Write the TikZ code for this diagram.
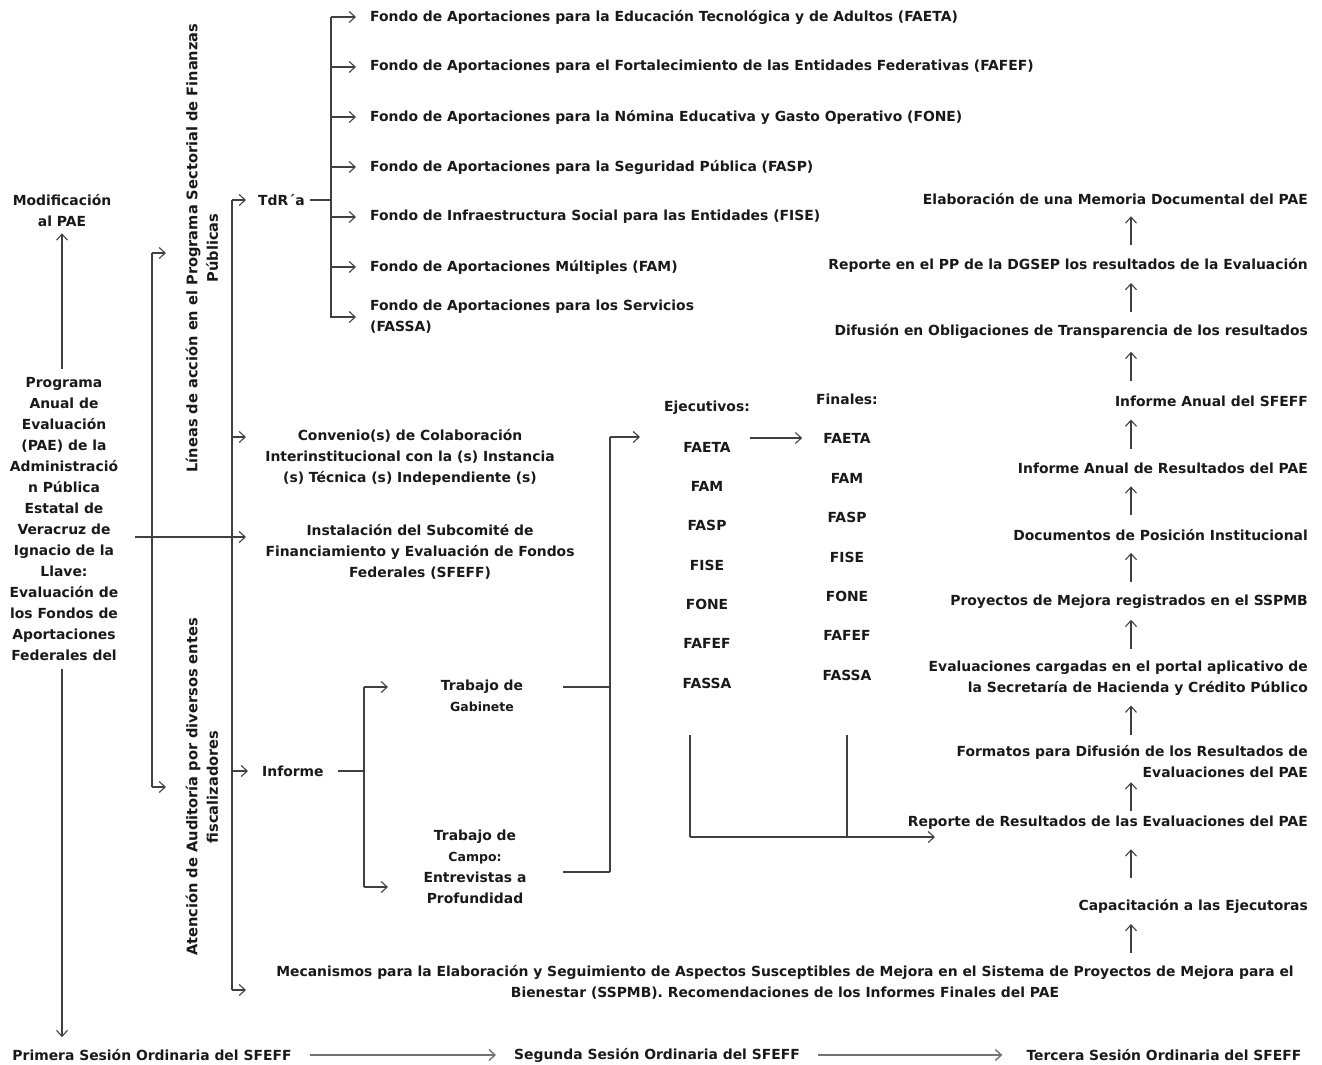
\documentclass[tikz,border=0pt]{standalone}
\usepackage{fontspec}
\setmainfont{DejaVu Sans}
\usetikzlibrary{arrows.meta,calc}
\begin{document}
\begin{tikzpicture}[x=1pt,y=-1pt,
  every node/.style={font=\fontsize{13.9}{21}\selectfont\bfseries, inner sep=0pt, text=black!90},
  ln/.style={draw=black!75, line width=1.1pt},
  arr/.style={ln, -{Straight Barb[length=6pt,width=11pt,line width=1.1pt]}},
  arrg/.style={draw=black!55, line width=1.8pt, -{Straight Barb[length=6pt,width=11pt,line width=1.4pt]}},
  rot/.style={rotate=90, align=center, font=\fontsize{14.6}{20.5}\selectfont\bfseries}
]
\useasboundingbox (0,0) rectangle (1322,1065);

% left column
\node[align=center] (mod) at (62,211) {Modificación\\al PAE};
\node[align=center] (prog) at (64,519) {Programa\\Anual de\\Evaluación\\(PAE) de la\\Administració\\n Pública\\Estatal de\\Veracruz de\\Ignacio de la\\Llave:\\Evaluación de\\los Fondos de\\Aportaciones\\Federales del};
\node (prim) at (152,1055) {Primera Sesión Ordinaria del SFEFF};
\node (seg) at (657,1055) {Segunda Sesión Ordinaria del SFEFF};
\node (ter) at (1164,1055) {Tercera Sesión Ordinaria del SFEFF};
\draw[arr, shorten <=8pt, shorten >=6pt] (prog.north -| mod) -- (mod.south);
\draw[arr, shorten <=8pt, shorten >=12pt] (prog.south -| mod) -- (mod |- prim.north);
\draw[arrg, shorten <=18pt, shorten >=18pt] (prim.east) -- (seg.west);
\draw[arrg, shorten <=18pt, shorten >=24pt] (seg.east) -- (ter.west);

% rotated labels
\node[rot] (lin) at (202,248) {Líneas de acción en el Programa Sectorial de Finanzas\\Públicas};
\node[rot] (aud) at (202,787) {Atención de Auditoría por diversos entes\\fiscalizadores};

% bracket 1
\coordinate (b1t) at (152,253);
\coordinate (b1b) at (152,787);
\draw[ln] (b1t) -- (b1b);
\draw[arr] (b1t) -- ++(14,0);
\draw[arr] (b1b) -- ++(14,0);

% bracket 2
\coordinate (b2t) at (232,200);
\coordinate (b2b) at (232,990);
\coordinate (b2c) at (232,437);
\coordinate (pj) at (135,537);
\draw[ln] (b2t) -- (b2b);

\node[anchor=west] (tdr) at (258,200) {TdR´a};
\node[align=center] (conv) at (410,457) {Convenio(s) de Colaboración\\Interinstitucional con la (s) Instancia\\(s) Técnica (s) Independiente (s)};
\node[align=center] (inst) at (420,552) {Instalación del Subcomité de\\Financiamiento y Evaluación de Fondos\\Federales (SFEFF)};
\node[anchor=west] (inf) at (262,771) {Informe};
\node[align=center] (mec) at (785,982) {Mecanismos para la Elaboración y Seguimiento de Aspectos Susceptibles de Mejora en el Sistema de Proyectos de Mejora para el\\Bienestar (SSPMB). Recomendaciones de los Informes Finales del PAE};

\draw[arr, shorten >=12pt] (b2t) -- (tdr.west);
\draw[arr] (b2c) -- ++(14,0);
\draw[arr] (pj) -- ++(111,0);
\draw[arr, shorten >=14pt] (b2t |- inf.west) -- (inf.west);
\draw[arr] (b2b) -- ++(14,0);

% TdR bracket
\coordinate (t0) at (331,17);
\coordinate (t1) at (331,318);
\node[anchor=west] (f1) at (370,17) {Fondo de Aportaciones para la Educación Tecnológica y de Adultos (FAETA)};
\node[anchor=west] (f2) at (370,67) {Fondo de Aportaciones para el Fortalecimiento de las Entidades Federativas (FAFEF)};
\node[anchor=west] (f3) at (370,117) {Fondo de Aportaciones para la Nómina Educativa y Gasto Operativo (FONE)};
\node[anchor=west] (f4) at (370,167) {Fondo de Aportaciones para la Seguridad Pública (FASP)};
\node[anchor=west] (f5) at (370,217) {Fondo de Infraestructura Social para las Entidades (FISE)};
\node[anchor=west] (f6) at (370,267) {Fondo de Aportaciones Múltiples (FAM)};
\node[anchor=west, align=left] (f7) at (370,317) {Fondo de Aportaciones para los Servicios\\(FASSA)};
\draw[ln] ([xshift=5pt]tdr.east) -- (tdr.east -| t0);
\draw[ln] (t0) -- (t1);
\foreach \i in {1,...,7} {\draw[arr, shorten >=14pt] (f\i.west -| t0) -- (f\i.west);}

% Informe bracket
\coordinate (i0) at (364,687);
\coordinate (i1) at (364,887);
\draw[ln] ([xshift=14pt]inf.east) -- (inf.east -| i0);
\draw[ln] (i0) -- (i1);
\draw[arr] (i0) -- ++(24,0);
\draw[arr] (i1) -- ++(24,0);
\node[align=center] (gab) at (482,696) {Trabajo de\\{\fontsize{12.5}{21}\selectfont Gabinete}};
\node[align=center] (cam) at (475,867) {Trabajo de\\{\fontsize{12.5}{21}\selectfont Campo:}\\Entrevistas a\\Profundidad};

% join to Ejecutivos
\coordinate (g0) at (610,437);
\coordinate (g1) at (610,872);
\coordinate (gl0) at (563,687);
\coordinate (gl1) at (563,872);
\draw[ln] (g0) -- (g1);
\draw[ln] (gl0) -- (gl0 -| g0);
\draw[ln] (gl1) -- (g1);
\draw[arr] (g0) -- ++(30,0);

% Ejecutivos / Finales
\node (ejh) at (707,408) {Ejecutivos:};
\node (e1) at (707,447) {FAETA};
\node (e2) at (707,486) {FAM};
\node (e3) at (707,525) {FASP};
\node (e4) at (707,565) {FISE};
\node (e5) at (707,604) {FONE};
\node (e6) at (707,643) {FAFEF};
\node (e7) at (707,683) {FASSA};
\node (fih) at (847,399) {Finales:};
\node (n1) at (847,438) {FAETA};
\node (n2) at (847,478) {FAM};
\node (n3) at (847,517) {FASP};
\node (n4) at (847,557) {FISE};
\node (n5) at (847,596) {FONE};
\node (n6) at (847,635) {FAFEF};
\node (n7) at (847,675) {FASSA};
\draw[arr, shorten <=19pt, shorten >=21pt] (e1.east |- n1) -- (n1.west);

\coordinate (k0) at (690,735);
\coordinate (k1) at (690,837);
\coordinate (k2) at (847,735);
\draw[ln] (k0) -- (k1);
\draw[ln] (k2) -- (k2 |- k1);
\draw[arr] (k1) -- ++(245,0);

% right column
\node[anchor=east] (r1) at (1308,199) {Elaboración de una Memoria Documental del PAE};
\node[anchor=east] (r2) at (1308,265) {Reporte en el PP de la DGSEP los resultados de la Evaluación};
\node[anchor=east] (r3) at (1308,331) {Difusión en Obligaciones de Transparencia de los resultados};
\node[anchor=east] (r4) at (1308,401) {Informe Anual del SFEFF};
\node[anchor=east] (r5) at (1308,468) {Informe Anual de Resultados del PAE};
\node[anchor=east] (r6) at (1308,535) {Documentos de Posición Institucional};
\node[anchor=east] (r7) at (1308,602) {Proyectos de Mejora registrados en el SSPMB};
\node[anchor=east, align=right] (r8) at (1308,678) {Evaluaciones cargadas en el portal aplicativo de\\la Secretaría de Hacienda y Crédito Público};
\node[anchor=east, align=right] (r9) at (1308,762) {Formatos para Difusión de los Resultados de\\Evaluaciones del PAE};
\node[anchor=east] (r10) at (1308,823) {Reporte de Resultados de las Evaluaciones del PAE};
\node[anchor=east] (r11) at (1308,906) {Capacitación a las Ejecutoras};
\coordinate (ax) at (1131,0);
\foreach \a/\b in {mec/r11,r11/r10,r10/r9,r9/r8,r8/r7,r7/r6,r6/r5,r5/r4,r4/r3,r3/r2,r2/r1}
  {\draw[arr] ($(\a.north -| ax)!0.5!(\b.south -| ax) + (0,14)$) -- ++(0,-29);}
\end{tikzpicture}
\end{document}
